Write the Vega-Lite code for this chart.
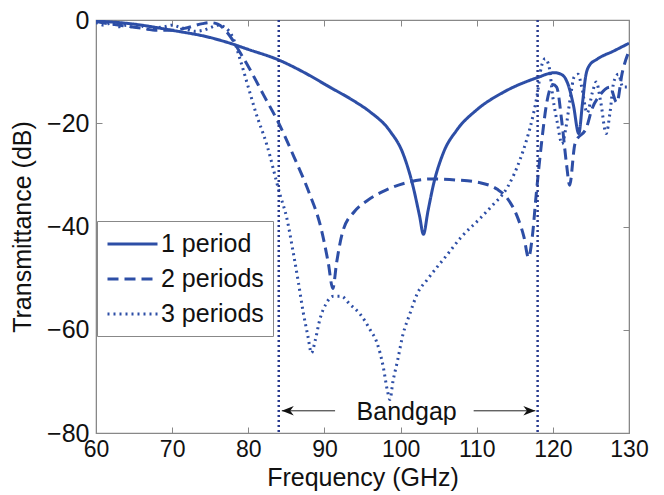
{
  "$schema": "https://vega.github.io/schema/vega-lite/v6.json",
  "width": 533,
  "height": 413,
  "autosize": {"type": "none"},
  "padding": {"left": 96, "top": 20, "right": 35, "bottom": 62},
  "background": "white",
  "config": {
    "font": "Liberation Sans",
    "view": {"stroke": "#888888", "strokeWidth": 1.2},
    "axis": {
      "grid": false,
      "domainColor": "#888888",
      "tickColor": "#888888",
      "tickSize": -6,
      "labelFont": "Liberation Sans",
      "labelFontSize": 25,
      "labelColor": "#111111",
      "titleFont": "Liberation Sans",
      "titleFontSize": 25,
      "titleFontWeight": "normal",
      "titleColor": "#111111"
    }
  },
  "resolve": {"axis": {"x": "independent", "y": "independent"}},
  "datasets": {
    "curves": [
      {"f": 60, "t": -0.2, "s": "1 period"},
      {"f": 65, "t": -0.8, "s": "1 period"},
      {"f": 70, "t": -2.0, "s": "1 period"},
      {"f": 75, "t": -3.4, "s": "1 period"},
      {"f": 77.6, "t": -4.5, "s": "1 period"},
      {"f": 80, "t": -5.7, "s": "1 period"},
      {"f": 84, "t": -7.75, "s": "1 period"},
      {"f": 87, "t": -9.9, "s": "1 period"},
      {"f": 90.7, "t": -13, "s": "1 period"},
      {"f": 94, "t": -15.8, "s": "1 period"},
      {"f": 96, "t": -17.8, "s": "1 period"},
      {"f": 98.6, "t": -21.5, "s": "1 period"},
      {"f": 100.3, "t": -25.8, "s": "1 period"},
      {"f": 101.6, "t": -32, "s": "1 period"},
      {"f": 102.5, "t": -38, "s": "1 period"},
      {"f": 103, "t": -41.5, "s": "1 period"},
      {"f": 103.6, "t": -37, "s": "1 period"},
      {"f": 104.3, "t": -32, "s": "1 period"},
      {"f": 105.6, "t": -25.8, "s": "1 period"},
      {"f": 107.4, "t": -21.3, "s": "1 period"},
      {"f": 110, "t": -17.4, "s": "1 period"},
      {"f": 113.5, "t": -14, "s": "1 period"},
      {"f": 117.9, "t": -11.2, "s": "1 period"},
      {"f": 120.2, "t": -10.2, "s": "1 period"},
      {"f": 121.2, "t": -10.6, "s": "1 period"},
      {"f": 122, "t": -12.5, "s": "1 period"},
      {"f": 122.7, "t": -16.5, "s": "1 period"},
      {"f": 123.4, "t": -22, "s": "1 period"},
      {"f": 123.9, "t": -16, "s": "1 period"},
      {"f": 124.3, "t": -11, "s": "1 period"},
      {"f": 124.8, "t": -8.8, "s": "1 period"},
      {"f": 125.8, "t": -7.6, "s": "1 period"},
      {"f": 128, "t": -6.0, "s": "1 period"},
      {"f": 130, "t": -4.5, "s": "1 period"},

      {"f": 60, "t": -0.3, "s": "2 periods"},
      {"f": 62, "t": -0.8, "s": "2 periods"},
      {"f": 64, "t": -1.2, "s": "2 periods"},
      {"f": 66, "t": -1.6, "s": "2 periods"},
      {"f": 68, "t": -2.0, "s": "2 periods"},
      {"f": 70, "t": -2.0, "s": "2 periods"},
      {"f": 72, "t": -1.5, "s": "2 periods"},
      {"f": 74, "t": -0.7, "s": "2 periods"},
      {"f": 75, "t": -0.5, "s": "2 periods"},
      {"f": 76, "t": -0.8, "s": "2 periods"},
      {"f": 77, "t": -2.0, "s": "2 periods"},
      {"f": 78, "t": -4.0, "s": "2 periods"},
      {"f": 79, "t": -6.5, "s": "2 periods"},
      {"f": 80, "t": -9.0, "s": "2 periods"},
      {"f": 82, "t": -14.5, "s": "2 periods"},
      {"f": 84, "t": -20, "s": "2 periods"},
      {"f": 86, "t": -26.5, "s": "2 periods"},
      {"f": 88, "t": -33.5, "s": "2 periods"},
      {"f": 89.5, "t": -40, "s": "2 periods"},
      {"f": 90.5, "t": -47, "s": "2 periods"},
      {"f": 91.1, "t": -52, "s": "2 periods"},
      {"f": 91.6, "t": -47, "s": "2 periods"},
      {"f": 92.4, "t": -41, "s": "2 periods"},
      {"f": 94, "t": -37, "s": "2 periods"},
      {"f": 95.6, "t": -35, "s": "2 periods"},
      {"f": 98, "t": -33, "s": "2 periods"},
      {"f": 100.8, "t": -31.5, "s": "2 periods"},
      {"f": 104, "t": -30.8, "s": "2 periods"},
      {"f": 107.4, "t": -31, "s": "2 periods"},
      {"f": 110.4, "t": -31.5, "s": "2 periods"},
      {"f": 112.7, "t": -32.8, "s": "2 periods"},
      {"f": 114, "t": -34.5, "s": "2 periods"},
      {"f": 115.3, "t": -38, "s": "2 periods"},
      {"f": 116.2, "t": -42, "s": "2 periods"},
      {"f": 116.8, "t": -46, "s": "2 periods"},
      {"f": 117.3, "t": -42, "s": "2 periods"},
      {"f": 117.8, "t": -34, "s": "2 periods"},
      {"f": 118.5, "t": -24, "s": "2 periods"},
      {"f": 119.2, "t": -16, "s": "2 periods"},
      {"f": 120, "t": -12.5, "s": "2 periods"},
      {"f": 120.5, "t": -13, "s": "2 periods"},
      {"f": 121.2, "t": -20, "s": "2 periods"},
      {"f": 121.8, "t": -28, "s": "2 periods"},
      {"f": 122.2, "t": -32, "s": "2 periods"},
      {"f": 122.9, "t": -24, "s": "2 periods"},
      {"f": 124.5, "t": -20.5, "s": "2 periods"},
      {"f": 125.1, "t": -17.4, "s": "2 periods"},
      {"f": 126.2, "t": -14.5, "s": "2 periods"},
      {"f": 127.5, "t": -13, "s": "2 periods"},
      {"f": 128.4, "t": -16, "s": "2 periods"},
      {"f": 129.1, "t": -10.3, "s": "2 periods"},
      {"f": 130, "t": -6, "s": "2 periods"},

      {"f": 60, "t": -0.5, "s": "3 periods"},
      {"f": 61, "t": -1.0, "s": "3 periods"},
      {"f": 62, "t": -0.6, "s": "3 periods"},
      {"f": 63, "t": -1.3, "s": "3 periods"},
      {"f": 64, "t": -1.0, "s": "3 periods"},
      {"f": 65, "t": -1.5, "s": "3 periods"},
      {"f": 66, "t": -1.2, "s": "3 periods"},
      {"f": 67, "t": -1.8, "s": "3 periods"},
      {"f": 68, "t": -1.5, "s": "3 periods"},
      {"f": 69, "t": -1.3, "s": "3 periods"},
      {"f": 70, "t": -1.0, "s": "3 periods"},
      {"f": 71, "t": -1.4, "s": "3 periods"},
      {"f": 72, "t": -1.8, "s": "3 periods"},
      {"f": 73, "t": -2.2, "s": "3 periods"},
      {"f": 74, "t": -2.0, "s": "3 periods"},
      {"f": 75, "t": -1.5, "s": "3 periods"},
      {"f": 76, "t": -1.0, "s": "3 periods"},
      {"f": 77, "t": -1.5, "s": "3 periods"},
      {"f": 78, "t": -3.5, "s": "3 periods"},
      {"f": 79, "t": -8, "s": "3 periods"},
      {"f": 80, "t": -13, "s": "3 periods"},
      {"f": 81, "t": -18, "s": "3 periods"},
      {"f": 82.4, "t": -24, "s": "3 periods"},
      {"f": 84.2, "t": -34, "s": "3 periods"},
      {"f": 85, "t": -38, "s": "3 periods"},
      {"f": 85.9, "t": -45, "s": "3 periods"},
      {"f": 86.6, "t": -51, "s": "3 periods"},
      {"f": 87.2, "t": -56.5, "s": "3 periods"},
      {"f": 87.8, "t": -61, "s": "3 periods"},
      {"f": 88.3, "t": -64.5, "s": "3 periods"},
      {"f": 88.8, "t": -62, "s": "3 periods"},
      {"f": 89.4, "t": -58, "s": "3 periods"},
      {"f": 90.2, "t": -55, "s": "3 periods"},
      {"f": 91.2, "t": -53.5, "s": "3 periods"},
      {"f": 92.2, "t": -53.5, "s": "3 periods"},
      {"f": 93.3, "t": -55, "s": "3 periods"},
      {"f": 94.7, "t": -57, "s": "3 periods"},
      {"f": 96, "t": -60, "s": "3 periods"},
      {"f": 96.9, "t": -62.5, "s": "3 periods"},
      {"f": 97.7, "t": -67, "s": "3 periods"},
      {"f": 98.3, "t": -72, "s": "3 periods"},
      {"f": 98.6, "t": -73.5, "s": "3 periods"},
      {"f": 99, "t": -70, "s": "3 periods"},
      {"f": 99.6, "t": -66, "s": "3 periods"},
      {"f": 100.3, "t": -61, "s": "3 periods"},
      {"f": 101.2, "t": -57, "s": "3 periods"},
      {"f": 102.2, "t": -53, "s": "3 periods"},
      {"f": 103.5, "t": -50.3, "s": "3 periods"},
      {"f": 106.1, "t": -45.5, "s": "3 periods"},
      {"f": 108, "t": -42, "s": "3 periods"},
      {"f": 110.4, "t": -38.5, "s": "3 periods"},
      {"f": 112, "t": -36, "s": "3 periods"},
      {"f": 114, "t": -32.5, "s": "3 periods"},
      {"f": 115.7, "t": -27, "s": "3 periods"},
      {"f": 116.6, "t": -23, "s": "3 periods"},
      {"f": 117.4, "t": -18.5, "s": "3 periods"},
      {"f": 118, "t": -14, "s": "3 periods"},
      {"f": 118.5, "t": -9, "s": "3 periods"},
      {"f": 119, "t": -7.5, "s": "3 periods"},
      {"f": 119.5, "t": -9, "s": "3 periods"},
      {"f": 120, "t": -15, "s": "3 periods"},
      {"f": 120.6, "t": -20, "s": "3 periods"},
      {"f": 121.2, "t": -24, "s": "3 periods"},
      {"f": 121.7, "t": -21, "s": "3 periods"},
      {"f": 122.3, "t": -15, "s": "3 periods"},
      {"f": 122.8, "t": -11, "s": "3 periods"},
      {"f": 123.3, "t": -10.5, "s": "3 periods"},
      {"f": 123.8, "t": -13, "s": "3 periods"},
      {"f": 124.5, "t": -18, "s": "3 periods"},
      {"f": 125.2, "t": -14, "s": "3 periods"},
      {"f": 125.7, "t": -12, "s": "3 periods"},
      {"f": 126.3, "t": -16, "s": "3 periods"},
      {"f": 127, "t": -22, "s": "3 periods"},
      {"f": 127.5, "t": -18, "s": "3 periods"},
      {"f": 128, "t": -12, "s": "3 periods"},
      {"f": 128.6, "t": -10.5, "s": "3 periods"},
      {"f": 129.2, "t": -13, "s": "3 periods"},
      {"f": 130, "t": -13, "s": "3 periods"}
    ],
    "edges": [{"f": 84}, {"f": 118}],
    "arrows": [
      {"f": 91.4, "f2": 84.4, "t": -75.7, "dir": "left"},
      {"f": 109.6, "f2": 117.7, "t": -75.7, "dir": "right"}
    ],
    "label": [{"f": 100.8, "t": -75.9, "text": "Bandgap"}]
  },
  "layer": [
    {
      "data": {"name": "curves"},
      "mark": {"type": "line", "strokeWidth": 3, "color": "#2d4ea6", "clip": true, "interpolate": "monotone"},
      "encoding": {
        "x": {
          "field": "f", "type": "quantitative",
          "scale": {"domain": [60, 130], "nice": false, "zero": false},
          "axis": {"orient": "bottom", "title": "Frequency (GHz)", "values": [60, 70, 80, 90, 100, 110, 120, 130], "labelFontSize": 23, "labelPadding": 11, "titleY": 52, "titleBaseline": "alphabetic", "labelFlush": false}
        },
        "y": {
          "field": "t", "type": "quantitative",
          "scale": {"domain": [-80, 0], "nice": false, "zero": false},
          "axis": {"orient": "left", "title": "Transmittance (dB)", "values": [-80, -60, -40, -20, 0], "labelPadding": 13, "titlePadding": 11, "labelFlush": false}
        },
        "detail": {"field": "s"},
        "strokeDash": {
          "field": "s", "type": "nominal",
          "scale": {"domain": ["1 period", "2 periods", "3 periods"], "range": [[1, 0], [11, 6], [2, 4]]},
          "legend": {
            "title": null,
            "orient": "none",
            "legendX": 1,
            "legendY": 201,
            "symbolType": "M-1,0H3",
            "symbolSize": 625,
            "symbolStrokeWidth": 3,
            "symbolStrokeColor": "#2d4ea6",
            "symbolFillColor": "transparent",
            "labelFont": "Liberation Sans",
            "labelFontSize": 25,
            "labelColor": "#111111",
            "labelOffset": 27,
            "rowPadding": 8,
            "padding": 9,
            "strokeColor": "#888888",
            "fillColor": "white"
          }
        }
      }
    },
    {
      "data": {"name": "edges"},
      "mark": {"type": "rule", "color": "#2a3b8f", "strokeWidth": 2.5, "strokeDash": [2, 3]},
      "encoding": {
        "x": {"field": "f", "type": "quantitative",
          "axis": {"orient": "top", "labels": false, "title": null, "values": [60, 70, 80, 90, 100, 110, 120, 130]}}
      }
    },
    {
      "data": {"name": "arrows"},
      "mark": {"type": "rule", "color": "#222222", "strokeWidth": 1},
      "encoding": {
        "x": {"field": "f", "type": "quantitative", "axis": null},
        "x2": {"field": "f2"},
        "y": {"field": "t", "type": "quantitative",
          "axis": {"orient": "right", "labels": false, "title": null, "values": [-80, -60, -40, -20, 0]}}
      }
    },
    {
      "data": {"name": "arrows"},
      "mark": {"type": "point", "filled": true, "color": "#111111", "opacity": 1, "size": 144, "strokeWidth": 0},
      "encoding": {
        "x": {"field": "f2", "type": "quantitative", "axis": null},
        "y": {"field": "t", "type": "quantitative", "axis": null},
        "shape": {"field": "dir", "type": "nominal",
          "scale": {"domain": ["left", "right"], "range": ["M0,0L2,-0.8L1.4,0L2,0.8Z", "M0,0L-2,-0.8L-1.4,0L-2,0.8Z"]},
          "legend": null}
      }
    },
    {
      "data": {"name": "label"},
      "mark": {"type": "text", "font": "Liberation Sans", "fontSize": 25, "color": "#111111", "align": "center", "baseline": "middle"},
      "encoding": {
        "x": {"field": "f", "type": "quantitative", "axis": null},
        "y": {"field": "t", "type": "quantitative", "axis": null},
        "text": {"field": "text"}
      }
    }
  ]
}
